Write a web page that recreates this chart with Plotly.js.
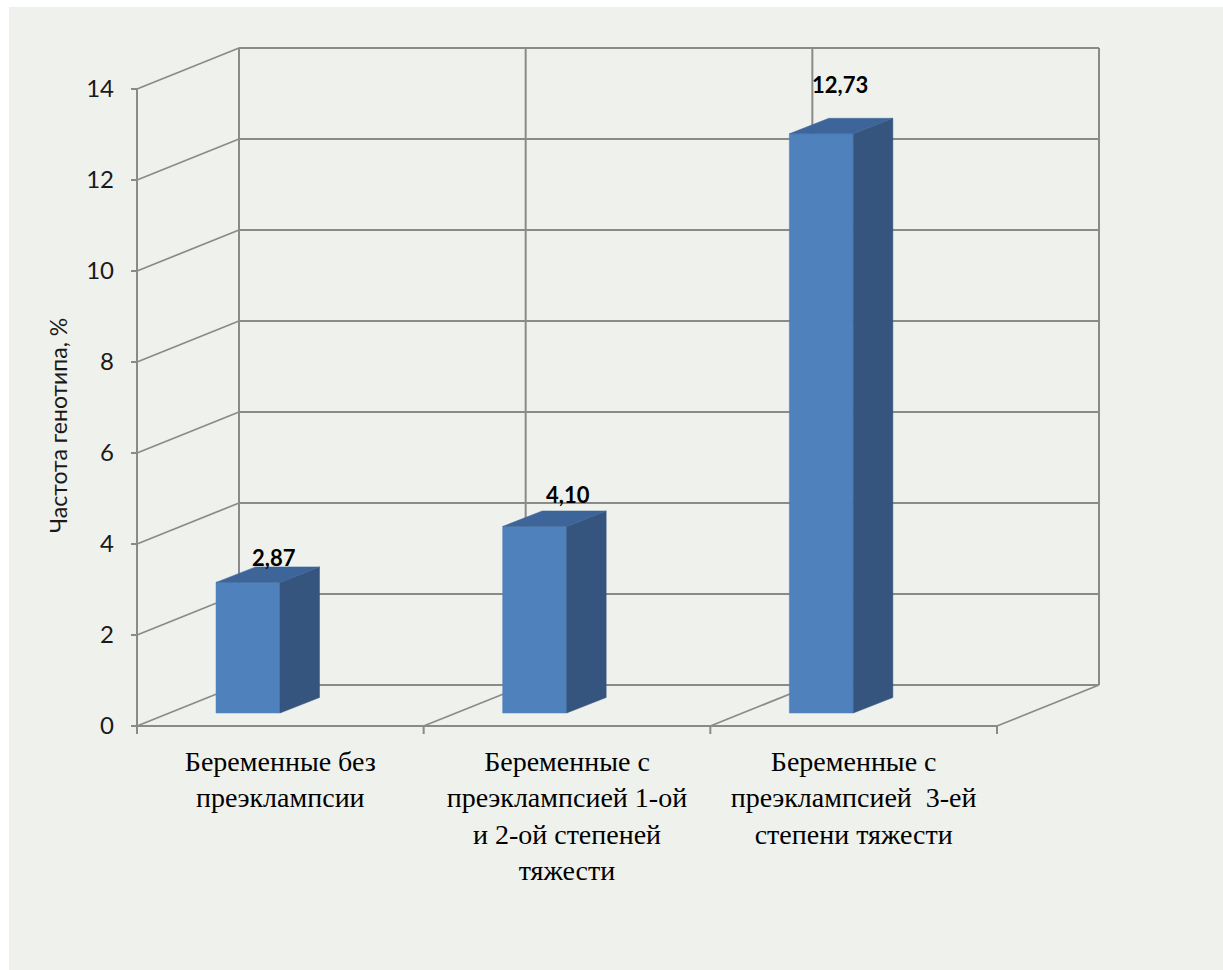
<!DOCTYPE html>
<html><head><meta charset="utf-8">
<script src="https://cdn.plot.ly/plotly-3.0.1.min.js"></script>
<style>html,body{margin:0;padding:0;background:#fff;width:1223px;height:970px;overflow:hidden}
#chart{position:absolute;left:9px;top:7px;width:1214px;height:963px}</style>
</head><body><div id="chart"></div>
<script>
// ---- data ----
const categories = ["Беременные без<br>преэклампсии",
  "Беременные с<br>преэклампсией 1-ой<br>и 2-ой степеней<br>тяжести",
  "Беременные с<br>преэклампсией  3-ей<br>степени тяжести"];
const values = [2.87, 4.10, 12.73];
const yTicks = [0, 2, 4, 6, 8, 10, 12, 14];
const yTitle = "Частота генотипа, %";

// ---- geometry / style ----
const SX = 286.67, SY = 45.5;              // px per unit
const ORIGIN = {x: 137, y: 726};            // page px of the front origin
const DIV = {left: 9, top: 7, w: 1214, h: 963};
const PLOT = {left: 129, right: 1102, top: 44, bottom: 738};
const wall = {dx: 102 / SX, dy: 41 / SY};
const bar = {off: 79 / SX, w: 64 / SX, base: 13 / SY, dx: 39.5 / SX, dy: 15.5 / SY};
const labelDx = [58, 65, 51];       // px from bar front-left
const labelLift = [0.84, 0.98, 1.38]; // units above value
const GRID = '#8a8a8a';
const nCat = categories.length;
const yMax = yTicks[yTicks.length - 1];

const xr = [(PLOT.left - ORIGIN.x) / SX, (PLOT.right - ORIGIN.x) / SX];
const yr = [(ORIGIN.y - PLOT.bottom) / SY, (ORIGIN.y - PLOT.top) / SY];

function seg(arr, x0, y0, x1, y1) { arr.x.push(x0, x1, null); arr.y.push(y0, y1, null); }

const straight = {x: [], y: []}, slant = {x: [], y: []}, tickSeg = {x: [], y: []};
yTicks.forEach(v => {
  seg(straight, wall.dx, v + wall.dy, nCat + wall.dx, v + wall.dy);
  seg(slant, 0, v, wall.dx, v + wall.dy);
  seg(tickSeg, -6 / SX, v, 0, v);
});
for (let i = 0; i <= nCat; i++) {
  seg(straight, i + wall.dx, wall.dy, i + wall.dx, yMax + wall.dy);
  if (i > 0) seg(slant, i, 0, i + wall.dx, wall.dy);
  seg(tickSeg, i, 0, i, -8 / SY);
}
seg(straight, 0, 0, 0, yMax);
seg(straight, 0, 0, nCat, 0);

const frontFace = {x: [], y: []}, sideFace = {x: [], y: []}, topFace = {x: [], y: []};
values.forEach((v, i) => {
  const x0 = i + bar.off, x1 = x0 + bar.w, b = bar.base, t = bar.base + v;
  frontFace.x.push(x0, x1, x1, x0, x0, null);
  frontFace.y.push(b, b, t, t, b, null);
  sideFace.x.push(x1, x1, x1 + bar.dx, x1 + bar.dx, x1, null);
  sideFace.y.push(b, t, t + bar.dy, b + bar.dy, b, null);
  topFace.x.push(x0, x1, x1 + bar.dx, x0 + bar.dx, x0, null);
  topFace.y.push(t, t, t + bar.dy, t + bar.dy, t, null);
});

function face(f, color) {
  return {type: 'scatter', mode: 'lines', x: f.x, y: f.y, fill: 'toself', fillcolor: color,
          line: {width: 0.5, color: color}, hoverinfo: 'skip', showlegend: false};
}

const traces = [
  {type: 'scatter', mode: 'lines', x: slant.x, y: slant.y, line: {color: GRID, width: 1.7}, hoverinfo: 'skip', showlegend: false},
  {type: 'scatter', mode: 'lines', x: straight.x, y: straight.y, line: {color: GRID, width: 2}, hoverinfo: 'skip', showlegend: false},
  {type: 'scatter', mode: 'lines', x: tickSeg.x, y: tickSeg.y, line: {color: GRID, width: 2}, hoverinfo: 'skip', showlegend: false},
  face(frontFace, '#4f81bd'),
  face(sideFace, '#35557f'),
  face(topFace, '#3d6599')
];

const annotations = values.map((v, i) => ({
  x: i + bar.off + labelDx[i] / SX, y: v + labelLift[i], xref: 'x', yref: 'y',
  text: '<b>' + v.toFixed(2).replace('.', ',') + '</b>', showarrow: false,
  xanchor: 'center', yanchor: 'middle',
  font: {family: 'Lato, sans-serif', size: 22, color: '#000'}
}));
annotations.push({
  xref: 'paper', yref: 'y', x: (58 - PLOT.left) / (PLOT.right - PLOT.left), y: (ORIGIN.y - 426) / SY,
  text: yTitle, textangle: -90, showarrow: false, xanchor: 'center', yanchor: 'middle',
  font: {family: 'Lato, sans-serif', size: 23, color: '#1a1a1a'}
});

const layout = {
  width: DIV.w, height: DIV.h,
  paper_bgcolor: '#eff1ec', plot_bgcolor: 'rgba(0,0,0,0)',
  margin: {l: PLOT.left - DIV.left, r: DIV.w - (PLOT.right - DIV.left), t: PLOT.top - DIV.top, b: DIV.h - (PLOT.bottom - DIV.top), pad: 0},
  xaxis: {range: xr, tickvals: [0.5, 1.5, 2.5], ticktext: categories, ticks: '', showgrid: false,
          zeroline: false, showline: false, ticklabelstandoff: 4, automargin: false,
          tickfont: {family: '"Liberation Serif", serif', size: 28, color: '#000'}},
  yaxis: {range: yr, tickvals: yTicks, ticks: '', showgrid: false, zeroline: false, showline: false,
          ticklabelstandoff: 14, automargin: false,
          tickfont: {family: 'Lato, sans-serif', size: 24, color: '#1a1a1a'}},
  annotations: annotations,
  font: {family: 'Lato, sans-serif'}
};

Plotly.newPlot('chart', traces, layout, {displayModeBar: false, staticPlot: true});
</script></body></html>
